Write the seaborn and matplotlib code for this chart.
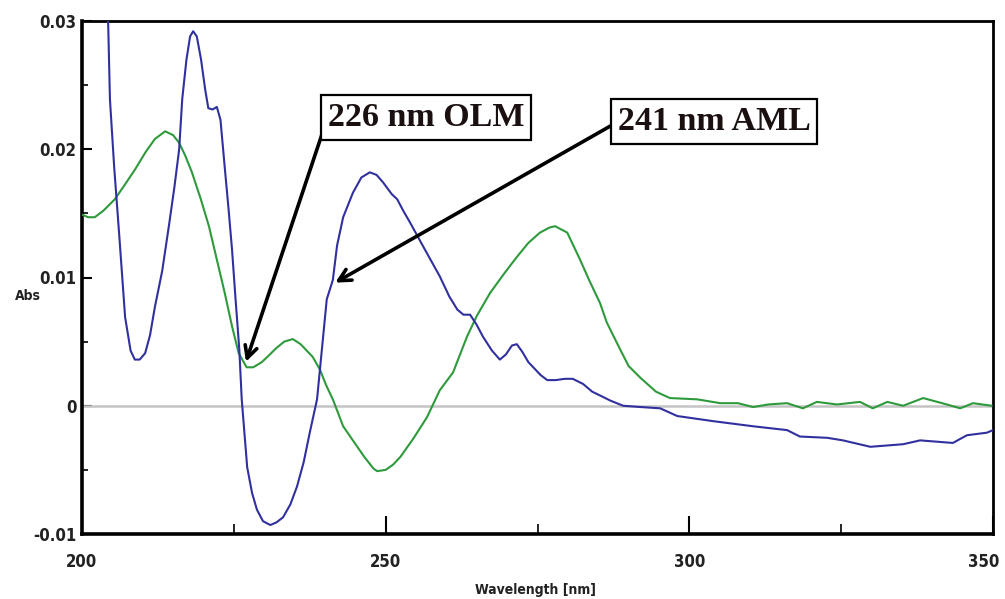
import matplotlib
matplotlib.use("Agg")
import matplotlib.pyplot as plt
import matplotlib.transforms as mtransforms
import seaborn as sns
import pandas as pd
from matplotlib.ticker import FixedLocator

# ---- data ----
wl_blue = [203.8, 204.3, 204.6, 205.3, 206.1, 207.1, 208.0, 208.7, 209.5, 210.4, 211.2, 212.0,
           213.2, 214.3, 215.2, 216.0, 216.5, 217.2, 217.8, 218.3, 218.9, 219.6, 220.3, 220.8,
           221.5, 222.2, 222.8, 223.5, 224.1, 224.7, 225.3, 225.9, 226.3, 227.2, 228.0, 228.8,
           229.8, 231.0, 232.0, 233.1, 234.3, 235.4, 236.5, 237.5, 238.7, 240.3, 241.3, 242.0,
           243.0, 244.6, 246.0, 247.4, 248.5, 249.6, 251.0, 251.9, 252.9, 254.0, 256.2, 258.9,
           260.5, 261.8, 262.8, 263.9, 265.0, 266.0, 267.5, 268.8, 269.8, 270.8, 271.6, 272.5,
           273.5, 274.3, 275.5, 276.6, 278.0, 279.5, 280.8, 282.5, 284.0, 285.3, 287.0, 289.1,
           292.0, 295.2, 298.0, 303.9, 310.5, 316.1, 318.2, 322.7, 325.3, 329.8, 335.2, 338.0,
           343.4, 345.7, 349.0, 350.0]
abs_blue = [0.0320, 0.0300, 0.0239, 0.0186, 0.0135, 0.0069, 0.0043, 0.0036, 0.0036, 0.0041, 0.0055, 0.0077,
            0.0105, 0.0140, 0.0170, 0.0200, 0.0239, 0.0270, 0.0288, 0.0292, 0.0288, 0.0270, 0.0246, 0.0232,
            0.0231, 0.0233, 0.0223, 0.0186, 0.0155, 0.0122, 0.0082, 0.0044, 0.0005, -0.0048, -0.0068, -0.0081,
            -0.0090, -0.0093, -0.0091, -0.0087, -0.0077, -0.0063, -0.0044, -0.0021, 0.0005, 0.0083, 0.0098, 0.0125,
            0.0147, 0.0166, 0.0178, 0.0182, 0.0180, 0.0174, 0.0165, 0.0161, 0.0152, 0.0143, 0.0124, 0.0101,
            0.0085, 0.0075, 0.0071, 0.0071, 0.0063, 0.0054, 0.0043, 0.0036, 0.0040, 0.0047, 0.0048, 0.0042,
            0.0034, 0.0030, 0.0024, 0.0020, 0.0020, 0.0021, 0.0021, 0.0017, 0.0011, 0.0008, 0.0004, 0.0000,
            -0.0001, -0.0002, -0.0008, -0.0012, -0.0016, -0.0019, -0.0024, -0.0025, -0.0027, -0.0032, -0.0030, -0.0027,
            -0.0029, -0.0023, -0.0021, -0.0019]

wl_green = [200.0, 201.0, 202.1, 203.5, 205.4, 207.0, 208.7, 210.5, 212.0, 213.7, 215.0, 216.0,
            217.0, 218.1, 219.5, 220.9, 222.2, 223.5, 224.7, 225.8, 227.1, 228.2, 229.6, 230.5,
            232.0, 233.3, 234.7, 236.0, 237.0, 238.0, 239.2, 240.2, 241.3, 243.0, 244.6, 246.5,
            248.0, 248.6, 250.0, 251.2, 252.4, 254.5, 256.8, 258.9, 261.1, 263.4, 265.0, 267.2,
            269.5, 271.6, 273.5, 275.4, 277.0, 277.9, 279.9, 282.0, 283.5, 285.3, 286.4, 288.6,
            290.0, 291.9, 294.5, 296.8, 301.3, 305.1, 308.0, 310.5, 313.0, 316.1, 318.7, 321.0,
            324.3, 328.1, 330.2, 332.6, 335.2, 338.5, 342.4, 344.6, 346.7, 349.8]
abs_green = [0.0149, 0.0147, 0.0147, 0.0152, 0.0161, 0.0172, 0.0184, 0.0198, 0.0208, 0.0214, 0.0211, 0.0205,
             0.0195, 0.0182, 0.0162, 0.0140, 0.0114, 0.0088, 0.0062, 0.0041, 0.0030, 0.0030, 0.0034, 0.0038,
             0.0045, 0.0050, 0.0052, 0.0048, 0.0043, 0.0038, 0.0028, 0.0016, 0.0005, -0.0016, -0.0027, -0.0040,
             -0.0049, -0.0051, -0.0050, -0.0046, -0.0040, -0.0026, -0.0009, 0.0012, 0.0026, 0.0054, 0.0070, 0.0088,
             0.0103, 0.0116, 0.0127, 0.0135, 0.0139, 0.0140, 0.0135, 0.0114, 0.0098, 0.0080, 0.0065, 0.0044,
             0.0031, 0.0022, 0.0011, 0.0006, 0.0005, 0.0002, 0.0002, -0.0001, 0.0001, 0.0002, -0.0002, 0.0003,
             0.0001, 0.0003, -0.0002, 0.0003, 0.0000, 0.0006, 0.0001, -0.0002, 0.0002, 0.0000]

x_major = [200, 250, 300, 350]
x_minor = [225, 275, 325]
y_major = [-0.01, 0.0, 0.01, 0.02, 0.03]
y_major_labels = ["-0.01", "0", "0.01", "0.02", "0.03"]
y_minor = [-0.005, 0.005, 0.015, 0.025]

annotations = [
    # label, text center (x, y), arrow tip (x, y)
    ("226 nm OLM", (256.6, 0.02246), (227.0, 0.00343)),
    ("241 nm AML", (304.1, 0.02214), (241.7, 0.0096)),
]

# ---- style ----
sns.set_theme(style="white")
plt.rcParams["font.family"] = ["DejaVu Sans"]
plt.rcParams["font.stretch"] = "condensed"

fig = plt.figure(figsize=(10.05, 5.99), dpi=100)
ax = fig.add_axes([82 / 1005, 1 - 534 / 599, (993 - 82) / 1005, (534 - 21) / 599])

blue_df = pd.DataFrame({"wl": wl_blue, "abs": abs_blue})
green_df = pd.DataFrame({"wl": wl_green, "abs": abs_green})

ax.axhline(0, color="#c4c4c4", lw=1.8, zorder=1)
sns.lineplot(data=green_df, x="wl", y="abs", ax=ax, color="#2e9a3c", lw=1.5,
             estimator=None, sort=False, zorder=3)
sns.lineplot(data=blue_df, x="wl", y="abs", ax=ax, color="#30309e", lw=1.5,
             estimator=None, sort=False, zorder=4)

ax.set_xlim(200, 350)
ax.set_ylim(-0.01, 0.03)

ax.xaxis.set_major_locator(FixedLocator(x_major))
ax.xaxis.set_minor_locator(FixedLocator(x_minor))
ax.set_xticklabels([str(v) for v in x_major])
ax.yaxis.set_major_locator(FixedLocator(y_major))
ax.yaxis.set_minor_locator(FixedLocator(y_minor))
ax.set_yticklabels(y_major_labels)

ax.tick_params(axis="x", which="major", direction="in", length=13, width=1.5,
               color="black", pad=14, labelsize=12)
ax.tick_params(axis="x", which="minor", direction="in", length=7, width=1.2, color="black")
ax.tick_params(axis="y", which="major", direction="in", length=7, width=1.5,
               color="black", pad=4, labelsize=12)
ax.tick_params(axis="y", which="minor", direction="in", length=4, width=1.2, color="black")
ax.tick_params(bottom=True, left=True, which="both")
for lab in ax.get_xticklabels() + ax.get_yticklabels():
    lab.set_fontweight("bold")
    lab.set_fontstretch("condensed")
    lab.set_color("#222222")

# keep the last x tick label ("350") inside the figure edge
last_lab = ax.get_xticklabels()[-1]
last_lab.set_transform(last_lab.get_transform() +
                       mtransforms.ScaledTranslation(-9 / 100, 0, fig.dpi_scale_trans))

for side in ["left", "bottom"]:
    ax.spines[side].set_linewidth(2.6)
    ax.spines[side].set_color("black")
for side in ["top", "right"]:
    ax.spines[side].set_linewidth(2.0)
    ax.spines[side].set_color("black")

ax.set_xlabel("")
ax.set_ylabel("")
fig.text(535 / 1005, 1 - 590 / 599, "Wavelength [nm]", ha="center", va="center",
         fontsize=10, fontweight="bold", fontstretch="condensed", color="#222222")
fig.text(28 / 1005, 1 - 296 / 599, "Abs", ha="center", va="center",
         fontsize=10, fontweight="bold", fontstretch="condensed", color="#222222")

for label, (tx, ty), (px, py) in annotations:
    ax.annotate(label, xy=(px, py), xytext=(tx, ty), textcoords="data",
                ha="center", va="center", fontsize=24.5, fontweight="bold",
                family=["Liberation Serif", "DejaVu Serif"], fontstretch="normal",
                color="#1a1010",
                bbox=dict(boxstyle="square,pad=0.2", fc="white", ec="black", lw=1.6),
                arrowprops=dict(arrowstyle="->,head_length=0.35,head_width=0.18",
                                color="black", lw=2.6, relpos=(0.0, 0.5),
                                patchA=None, shrinkA=0, shrinkB=0),
                zorder=6)

fig.savefig("out.png", dpi=100, facecolor="white")
